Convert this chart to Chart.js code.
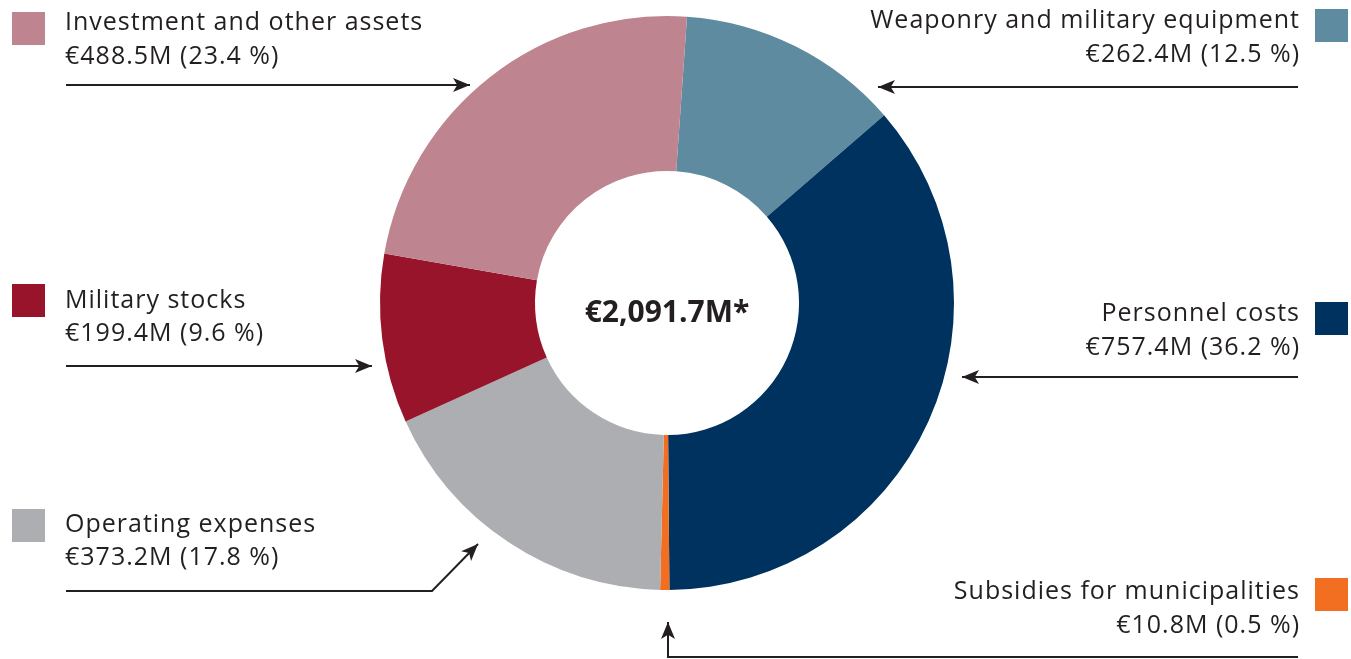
<!DOCTYPE html>
<html>
<head>
<meta charset="utf-8">
<script src="https://cdn.jsdelivr.net/npm/chart.js@4"></script>
<style>
  html, body { margin: 0; padding: 0; background: #fff; }
  #wrap { width: 1351px; height: 659px; position: relative; }
</style>
</head>
<body>
<div id="wrap"><canvas id="budgetChart"></canvas></div>
<script>
// data, clockwise from the top
var categories = ["Weaponry and military equipment", "Personnel costs", "Subsidies for municipalities",
	"Operating expenses", "Military stocks", "Investment and other assets"];
var amounts = [262.4, 757.4, 10.8, 373.2, 199.4, 488.5];
var shares = [12.5, 36.2, 0.5, 17.8, 9.6, 23.4];
var sliceColors = ["#5e8ba0", "#003260", "#f26f21", "#adaeb2", "#98142b", "#be8490"];
var totalLabel = "€2,091.7M*";

var textColor = "#231f20";
var fontFamily = "'Open Sans', 'Noto Sans', sans-serif";

// where each label sits: side, top of square, text lines y, arrow path
var labelSpots = [
	{ side: "right", sq: 9,   y1: 21,  y2: 55,  arrow: [[1298, 87], [878, 87]] },
	{ side: "right", sq: 302, y1: 314, y2: 348, arrow: [[1298, 377], [962, 377]] },
	{ side: "right", sq: 578, y1: 592, y2: 626, arrow: [[1298, 657], [668, 657], [668, 622]] },
	{ side: "left",  sq: 509, y1: 525, y2: 558, arrow: [[66, 591], [432, 591], [478, 544]] },
	{ side: "left",  sq: 284, y1: 301, y2: 334, arrow: [[66, 366], [372, 366]] },
	{ side: "left",  sq: 12,  y1: 23,  y2: 57,  arrow: [[66, 85], [470, 85]] }
];

function drawArrow(ctx, pts) {
	ctx.save();
	ctx.strokeStyle = textColor;
	ctx.fillStyle = textColor;
	ctx.lineWidth = 2;
	ctx.beginPath();
	ctx.moveTo(pts[0][0], pts[0][1]);
	for (var i = 1; i < pts.length; i++) {
		ctx.lineTo(pts[i][0], pts[i][1]);
	}
	var a = pts[pts.length - 2], b = pts[pts.length - 1];
	var ang = Math.atan2(b[1] - a[1], b[0] - a[0]);
	ctx.stroke();
	var len = 17, half = 7;
	ctx.beginPath();
	ctx.moveTo(b[0], b[1]);
	ctx.lineTo(b[0] - len * Math.cos(ang) + half * Math.sin(ang), b[1] - len * Math.sin(ang) - half * Math.cos(ang));
	ctx.lineTo(b[0] - len * 0.75 * Math.cos(ang), b[1] - len * 0.75 * Math.sin(ang));
	ctx.lineTo(b[0] - len * Math.cos(ang) - half * Math.sin(ang), b[1] - len * Math.sin(ang) + half * Math.cos(ang));
	ctx.closePath();
	ctx.fill();
	ctx.restore();
}

var calloutPlugin = {
	id: "callouts",
	afterDraw: function(chart) {
		var ctx = chart.ctx;
		ctx.save();
		ctx.textBaseline = "middle";
		ctx.font = "400 25px " + fontFamily;
		ctx.letterSpacing = "1px";
		for (var i = 0; i < categories.length; i++) {
			var s = labelSpots[i];
			var line2 = "€" + amounts[i].toFixed(1) + "M (" + shares[i].toFixed(1) + " %)";
			ctx.fillStyle = sliceColors[i];
			if (s.side == "left") {
				ctx.fillRect(12, s.sq, 33, 33);
				ctx.fillStyle = textColor;
				ctx.textAlign = "left";
				ctx.fillText(categories[i], 65, s.y1);
				ctx.fillText(line2, 65, s.y2);
			} else {
				ctx.fillRect(1315, s.sq, 33, 33);
				ctx.fillStyle = textColor;
				ctx.textAlign = "right";
				// trailing letter spacing pushes right-aligned text left
				ctx.fillText(categories[i], 1300, s.y1);
				ctx.fillText(line2, 1300, s.y2);
			}
			drawArrow(ctx, s.arrow);
		}
		// total in the hole
		var arc = chart.getDatasetMeta(0).data[0];
		ctx.letterSpacing = "0px";
		ctx.textAlign = "center";
		ctx.font = "700 30px " + fontFamily;
		ctx.fillText(totalLabel, arc.x, arc.y + 10);
		ctx.restore();
	}
};

var ctx = document.getElementById("budgetChart").getContext("2d");
var budgetChart = new Chart(ctx, {
	type: "doughnut",
	data: {
		labels: categories,
		datasets: [{
			data: amounts,
			backgroundColor: sliceColors,
			borderWidth: 0
		}]
	},
	options: {
		responsive: true,
		maintainAspectRatio: false,
		animation: false,
		rotation: 4,
		cutout: "46%",
		layout: { padding: { left: 0, right: 17, top: 16, bottom: 69 } },
		plugins: {
			legend: { display: false },
			tooltip: { enabled: false }
		}
	},
	plugins: [calloutPlugin]
});
</script>
</body>
</html>
